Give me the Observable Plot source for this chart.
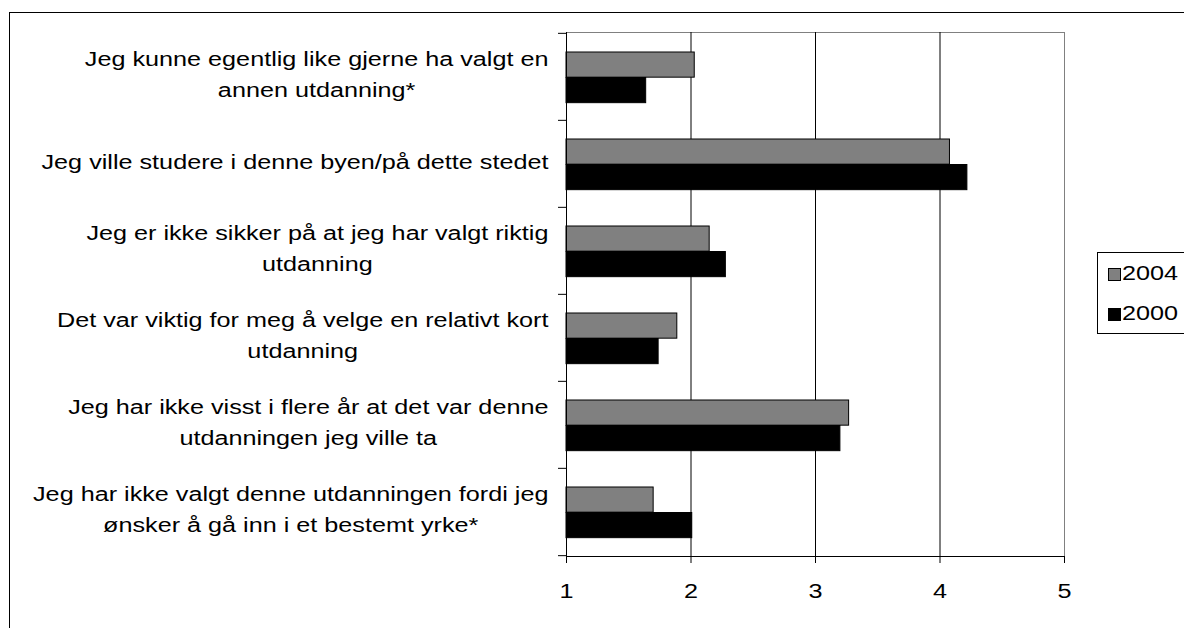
<!DOCTYPE html>
<html><head><meta charset="utf-8">
<script src="https://cdn.jsdelivr.net/npm/d3@7"></script>
<script src="https://cdn.jsdelivr.net/npm/@observablehq/plot@0.6"></script>
<style>
html,body{margin:0;padding:0;background:#fff;}
body{width:1184px;height:628px;overflow:hidden;position:relative;font-family:"Liberation Sans",Arial,sans-serif;}
#frame{position:absolute;left:9px;top:12px;width:1300px;height:800px;border-left:1px solid #000;border-top:1px solid #000;}
#chart{position:absolute;left:0;top:0;}
#legend{position:absolute;left:1097px;top:252px;width:120px;height:80px;border:1px solid #000;background:#fff;}
.item{position:absolute;left:10px;height:24px;}
.sw{position:absolute;left:0;top:0;width:11px;height:11px;border:1px solid #000;}
.lab{position:absolute;left:14px;top:-7px;font-size:21px;line-height:24px;color:#000;transform:scaleX(1.2);transform-origin:0 0;white-space:nowrap;}
</style>
</head><body>
<div id="frame"></div>
<div id="chart"></div>
<div id="legend"></div>
<script>
const categories = [
  "Jeg kunne egentlig like gjerne ha valgt en\nannen utdanning*",
  "Jeg ville studere i denne byen/på dette stedet",
  "Jeg er ikke sikker på at jeg har valgt riktig\nutdanning",
  "Det var viktig for meg å velge en relativt kort\nutdanning",
  "Jeg har ikke visst i flere år at det var denne\nutdanningen jeg ville ta",
  "Jeg har ikke valgt denne utdanningen fordi jeg\nønsker å gå inn i et bestemt yrke*"
];
const seriesNames = ["2004", "2000"];
const values2004 = [2.03, 4.08, 2.15, 1.89, 3.27, 1.70];
const values2000 = [1.64, 4.22, 2.28, 1.74, 3.20, 2.01];
const xTicks = [1, 2, 3, 4, 5];
const seriesColors = ["#808080", "#000000"];

const data2004 = categories.map((c, i) => ({category: c, value: values2004[i]}));
const data2000 = categories.map((c, i) => ({category: c, value: values2000[i]}));

const W = 1184, H = 628, mL = 566, mR = 120, mT = 32, mB = 72;
const band = (H - mT - mB) / categories.length;
const barH = 25.5, outer = 19;
const fs = 21, S = 1.2;

const chart = Plot.plot({
  width: W, height: H,
  marginLeft: mL, marginRight: mR, marginTop: mT, marginBottom: mB,
  style: {fontFamily: "Liberation Sans, Arial, sans-serif", fontSize: fs + "px", background: "transparent", color: "#000"},
  x: {domain: [1, 5], axis: null},
  y: {domain: categories, padding: 0, axis: null},
  marks: [
    Plot.frame({stroke: "#808080"}),
    Plot.ruleX(xTicks.slice(1, -1), {stroke: "#000", strokeWidth: 1}),
    Plot.barX(data2004, {y: "category", x1: () => 1, x2: "value", fill: seriesColors[0], stroke: "#000", strokeWidth: 1,
      insetTop: outer, insetBottom: band - outer - barH}),
    Plot.barX(data2000, {y: "category", x1: () => 1, x2: "value", fill: seriesColors[1], stroke: "#000", strokeWidth: 1,
      insetTop: outer + barH, insetBottom: band - outer - 2 * barH}),
    Plot.ruleX([xTicks[0]], {stroke: "#000"}),
    Plot.frame({anchor: "bottom", stroke: "#000"}),
    Plot.axisY({ticks: categories, tickSize: 8, tickFormat: () => "", dy: -band / 2, stroke: "#000", label: null}),
    Plot.axisY({ticks: categories.slice(-1), tickSize: 8, tickFormat: () => "", dy: band / 2, stroke: "#000", label: null}),
    Plot.axisY({ticks: categories, tickSize: 0, tickPadding: 18, fontSize: fs, lineHeight: 1.46, textAnchor: "end", fill: "#000", dy: -5, label: null}),
    Plot.axisX({ticks: xTicks, tickSize: 7, tickPadding: 20, fontSize: fs, tickFormat: d => String(d), stroke: "#000", fill: "#000", label: null})
  ]
});
document.getElementById("chart").appendChild(chart);

// center the lines of each multi-line label and widen glyphs like the reference
chart.querySelectorAll("text").forEach(t => {
  const spans = t.querySelectorAll("tspan");
  const isY = t.closest('[aria-label="y-axis tick label"]');
  if (isY && spans.length > 1) {
    let maxW = 0;
    spans.forEach(s => { maxW = Math.max(maxW, s.getComputedTextLength()); });
    t.setAttribute("text-anchor", "middle");
    spans.forEach(s => s.setAttribute("x", -maxW / 2));
  }
  const tr = t.getAttribute("transform");
  if (tr) t.setAttribute("transform", tr + ` scale(${S},1)`);
  else {
    const x = +t.getAttribute("x") || 0, y = +t.getAttribute("y") || 0;
    t.removeAttribute("x"); t.removeAttribute("y");
    t.setAttribute("transform", `translate(${x},${y}) scale(${S},1)`);
  }
});

// legend
const legend = document.getElementById("legend");
seriesNames.forEach((name, i) => {
  const it = document.createElement("div");
  it.className = "item";
  it.style.top = (15 + i * 40) + "px";
  const sw = document.createElement("div");
  sw.className = "sw";
  sw.style.background = seriesColors[i];
  const lab = document.createElement("div");
  lab.className = "lab";
  lab.textContent = name;
  it.appendChild(sw); it.appendChild(lab);
  legend.appendChild(it);
});
</script>
</body></html>
